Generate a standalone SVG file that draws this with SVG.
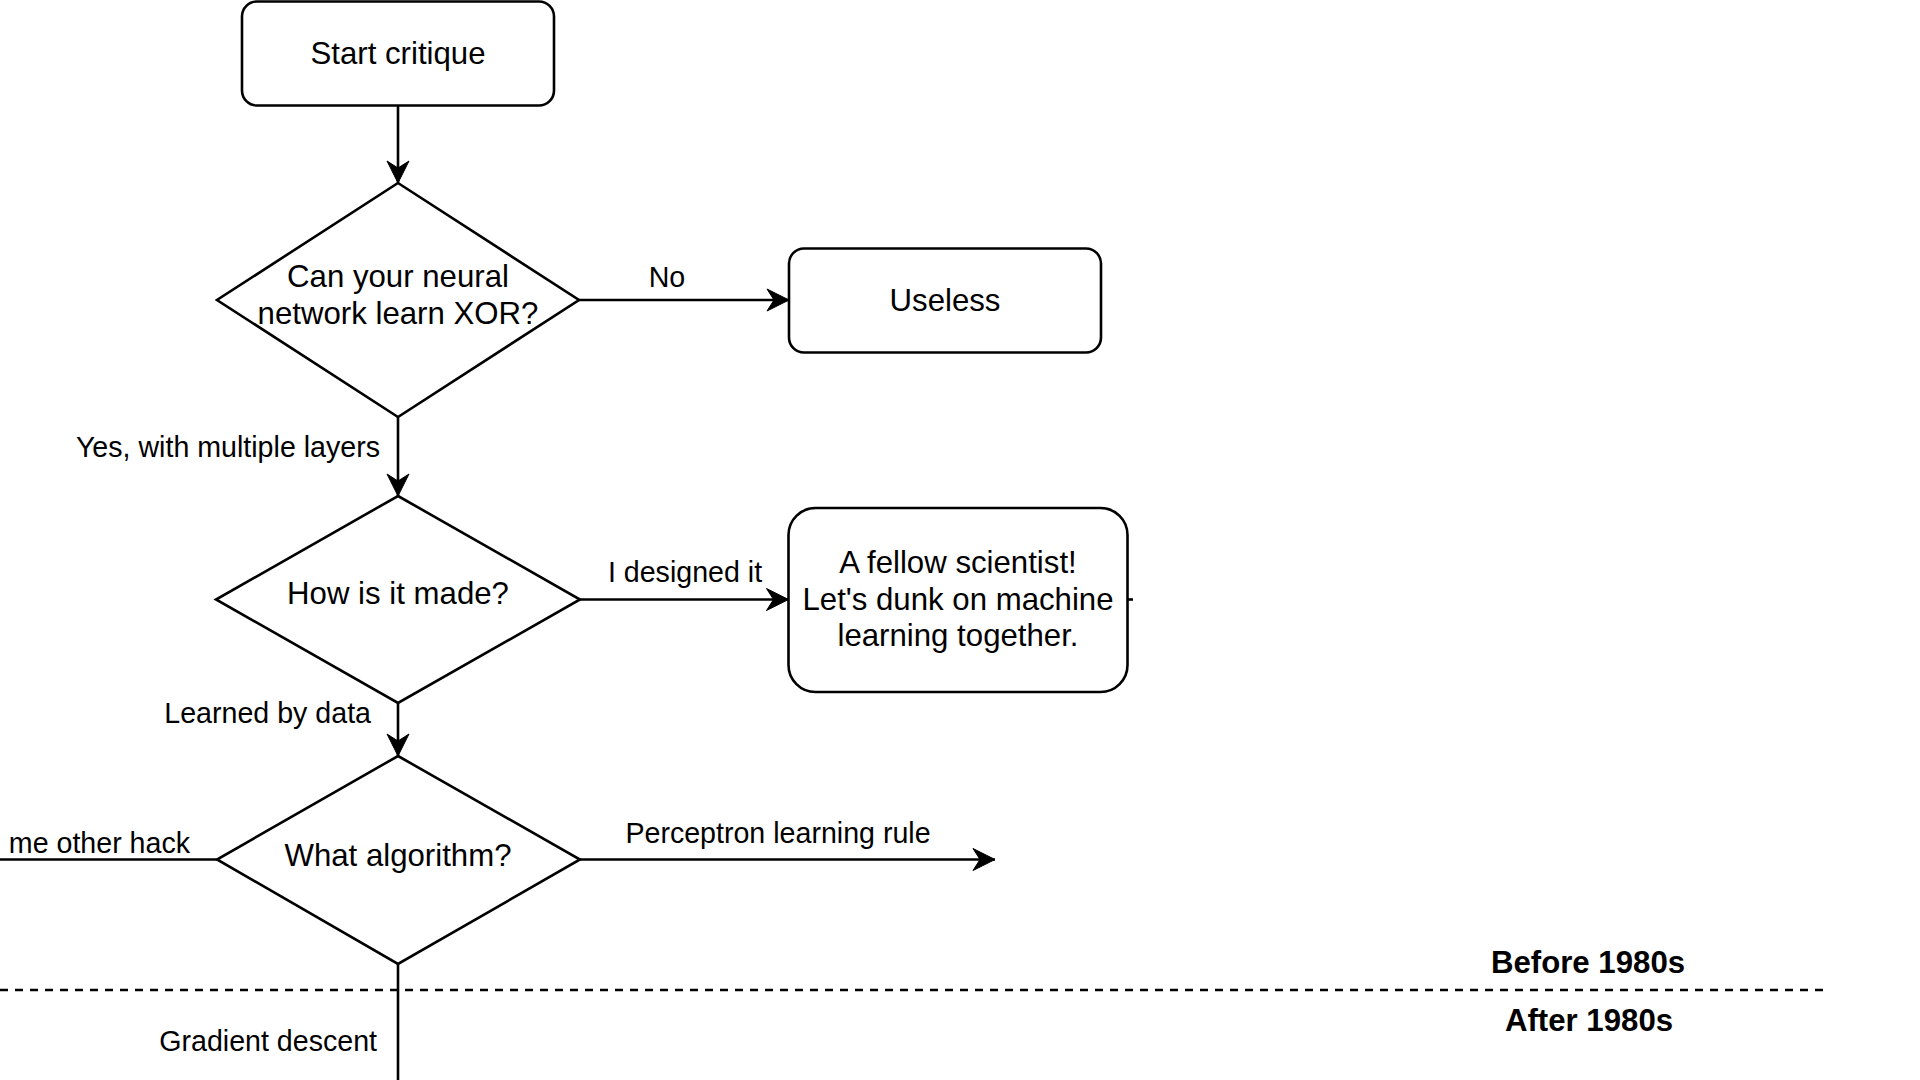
<svg xmlns="http://www.w3.org/2000/svg" width="1920" height="1080" viewBox="0 0 1920 1080">
<style>
.shape{fill:#fff;stroke:#000;stroke-width:2.6}
.edge{fill:none;stroke:#000;stroke-width:2.6}
.node{font-family:"Liberation Sans",Arial,Helvetica,sans-serif;font-size:31.2px;fill:#000;text-anchor:middle}
.lbl{font-family:"Liberation Sans",Arial,Helvetica,sans-serif;font-size:28.6px;fill:#000;text-anchor:middle}
.bold{font-family:"Liberation Sans",Arial,Helvetica,sans-serif;font-size:31.2px;font-weight:bold;fill:#000;text-anchor:middle}
.sep{fill:none;stroke:#000;stroke-width:2.6;stroke-dasharray:8 7}
</style>
<defs>
<marker id="arr" markerUnits="userSpaceOnUse" viewBox="-24 -12 26 24" refX="0" refY="0" markerWidth="26" markerHeight="24" orient="auto">
<path d="M0,0 L-22,-11 L-15,0 L-22,11 Z" fill="#000" stroke="#000" stroke-width="1"/>
</marker>
</defs>
<rect width="1920" height="1080" fill="#fff"/>

<g id="separator">
<line class="sep" x1="0" y1="990" x2="1826" y2="990"/>
<text class="bold" x="1588" y="973">Before 1980s</text>
<text class="bold" x="1589" y="1031">After 1980s</text>
</g>

<g id="connectors">
<line class="edge" x1="398" y1="106" x2="398" y2="183" marker-end="url(#arr)"/>
<line class="edge" x1="579" y1="300" x2="789" y2="300" marker-end="url(#arr)"/>
<text class="lbl" x="667" y="287">No</text>
<line class="edge" x1="398" y1="417" x2="398" y2="496" marker-end="url(#arr)"/>
<text class="lbl" x="380" y="457" style="text-anchor:end">Yes, with multiple layers</text>
<line class="edge" x1="580" y1="599.5" x2="788.5" y2="599.5" marker-end="url(#arr)"/>
<text class="lbl" x="685" y="582">I designed it</text>
<line class="edge" x1="398" y1="703" x2="398" y2="756" marker-end="url(#arr)"/>
<text class="lbl" x="371" y="723" style="text-anchor:end">Learned by data</text>
<line class="edge" x1="217" y1="859.5" x2="0" y2="859.5"/>
<text class="lbl" x="190" y="853" style="text-anchor:end">me other hack</text>
<line class="edge" x1="580" y1="859.5" x2="995" y2="859.5" marker-end="url(#arr)"/>
<text class="lbl" x="778" y="843">Perceptron learning rule</text>
<line class="edge" x1="398" y1="964" x2="398" y2="1080"/>
<text class="lbl" x="377" y="1051" style="text-anchor:end">Gradient descent</text>
<line class="edge" x1="1127.5" y1="599.5" x2="1133" y2="599.5"/>
</g>

<g id="start">
<rect class="shape" x="242" y="1.5" width="312" height="104" rx="15" ry="15"/>
<text class="node" x="398" y="63.5">Start critique</text>
</g>

<g id="decision-xor">
<polygon class="shape" points="398,183 579,300 398,417 217,300"/>
<text class="node" x="398" y="287">Can your neural</text>
<text class="node" x="398" y="324">network learn XOR?</text>
</g>

<g id="useless">
<rect class="shape" x="789" y="248.5" width="312" height="104" rx="15" ry="15"/>
<text class="node" x="945" y="311">Useless</text>
</g>

<g id="decision-made">
<polygon class="shape" points="398,496 580,599.5 398,703 216,599.5"/>
<text class="node" x="398" y="604">How is it made?</text>
</g>

<g id="fellow">
<rect class="shape" x="788.5" y="508" width="339" height="184" rx="27" ry="27"/>
<text class="node" x="958" y="573">A fellow scientist!</text>
<text class="node" x="958" y="609.5">Let's dunk on machine</text>
<text class="node" x="958" y="646">learning together.</text>
</g>

<g id="decision-algorithm">
<polygon class="shape" points="398,756 580,859.5 398,964 217,859.5"/>
<text class="node" x="398" y="866">What algorithm?</text>
</g>
</svg>
